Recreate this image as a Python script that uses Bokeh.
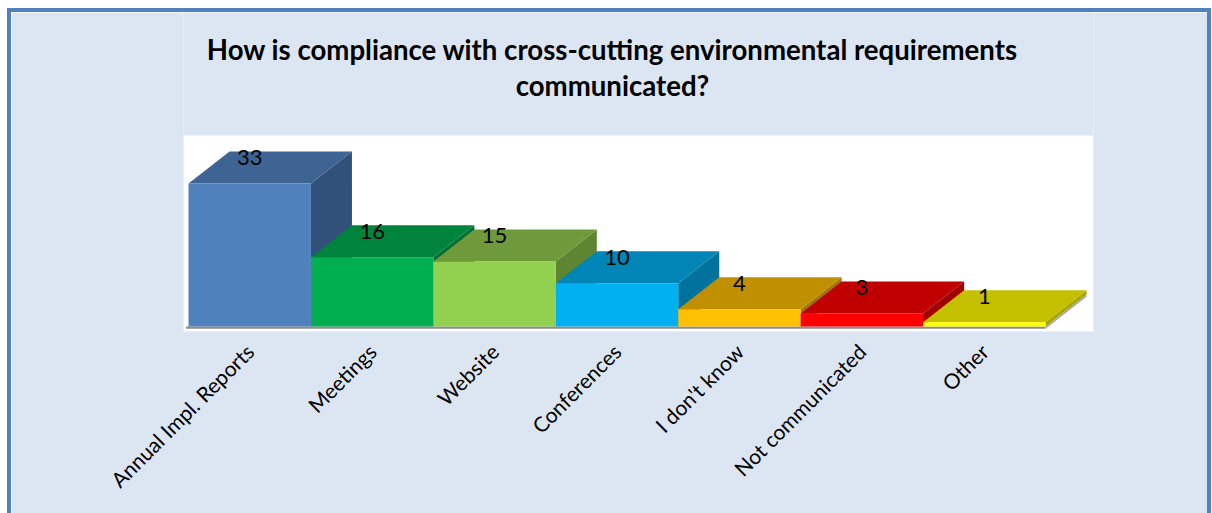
import numpy as np
from bokeh.plotting import figure
from bokeh.models import ColumnDataSource, FixedTicker, LinearAxis, Range1d
from bokeh.embed import file_html
from bokeh.resources import INLINE
from bokeh.core.properties import value

# ---- data ----
categories = ["Annual Impl. Reports", "Meetings", "Website", "Conferences",
              "I don't know", "Not communicated", "Other"]
counts = [33, 16, 15, 10, 4, 3, 1]
front_colors = ["#4F81BD", "#00B050", "#92D050", "#00B0F0", "#FFC000", "#FF0000", "#FFFF00"]
top_colors = ["#3E6494", "#00843C", "#6E9A3C", "#0086B6", "#C09000", "#C00000", "#C4C000"]
side_colors = ["#31507A", "#006E32", "#5E8632", "#00729C", "#A07800", "#A00000", "#A8A400"]
title_lines = ["How is compliance with cross-cutting environmental requirements",
               "communicated?"]

# ---- 3D projection parameters (data units) ----
DX = 0.335
DY = 7.39
FLOOR_T = 0.5
n = len(counts)

# plot-area (white) extent in data units; the frame extends above it to hold the title
X_MIN, X_MAX = -0.041, 7.392
Y_MIN, Y_PLOT_TOP, Y_MAX = -1.15, 44.1, 72.5

W, H = 1196, 501
p = figure(width=W, height=H, x_range=Range1d(X_MIN, X_MAX), y_range=Range1d(Y_MIN, Y_MAX),
           output_backend="svg", toolbar_location=None,
           x_axis_location=None, y_axis_location=None,
           min_border_left=172, min_border_right=114, min_border_top=0, min_border_bottom=182)
p.background_fill_color = "#DCE6F2"
p.border_fill_color = "#DCE6F2"
p.outline_line_color = None
p.styles = {"margin-left": "11px", "margin-top": "12px", "outline": "4px solid #4F81BD"}

# white plot area
p.quad(left=[X_MIN], right=[X_MAX], bottom=[Y_MIN], top=[Y_PLOT_TOP],
       fill_color="white", line_color=None)

xs, ys, cols = [], [], []
# floor
xs.append([-0.02, n, n, -0.02]); ys.append([-FLOOR_T, -FLOOR_T, 0, 0]); cols.append("#8C8C8C")
xs.append([n, n + DX, n + DX, n]); ys.append([-FLOOR_T, DY - FLOOR_T, DY, 0]); cols.append("#A6A6A6")
for i, h in enumerate(counts):
    x0, x1 = i, i + 1
    xs.append([x1, x1 + DX, x1 + DX, x1]); ys.append([0, DY, h + DY, h]); cols.append(side_colors[i])
    xs.append([x0, x1, x1 + DX, x0 + DX]); ys.append([h, h, h + DY, h + DY]); cols.append(top_colors[i])
    xs.append([x0, x1, x1, x0]); ys.append([0, 0, h, h]); cols.append(front_colors[i])

p.patches(xs="xs", ys="ys", fill_color="c", line_color=None,
          source=ColumnDataSource(dict(xs=xs, ys=ys, c=cols)))

lab = ColumnDataSource(dict(x=[i + 0.5 for i in range(n)],
                            y=[h + DY - 1.4 for h in counts],
                            t=[str(c) for c in counts]))
p.text(x="x", y="y", text="t", source=lab, text_align="center", text_baseline="middle",
       text_font=value("Lato"), text_font_size="22px", text_color="black")

# title (two centred lines above the plot area)
ttl = ColumnDataSource(dict(x=[3.463, 3.463], y=[63.9, 55.6], t=title_lines))
p.text(x="x", y="y", text="t", source=ttl, text_align="center", text_baseline="middle",
       text_font=value("Lato"), text_font_style="bold", text_font_size="27.6px",
       text_color="black")

ticks = [i + 0.5 for i in range(n)]
ax = LinearAxis(ticker=FixedTicker(ticks=ticks),
                major_label_overrides={t: c for t, c in zip(ticks, categories)})
ax.axis_line_color = None
ax.major_tick_line_color = None
ax.minor_tick_line_color = None
ax.major_label_orientation = np.pi / 4
ax.major_label_text_font = "Lato"
ax.major_label_text_font_size = "21px"
ax.major_label_text_color = "black"
ax.major_label_standoff = 10
p.add_layout(ax, "below")

for g in p.grid:
    g.visible = False

open("out.html", "w").write(file_html(p, INLINE))
